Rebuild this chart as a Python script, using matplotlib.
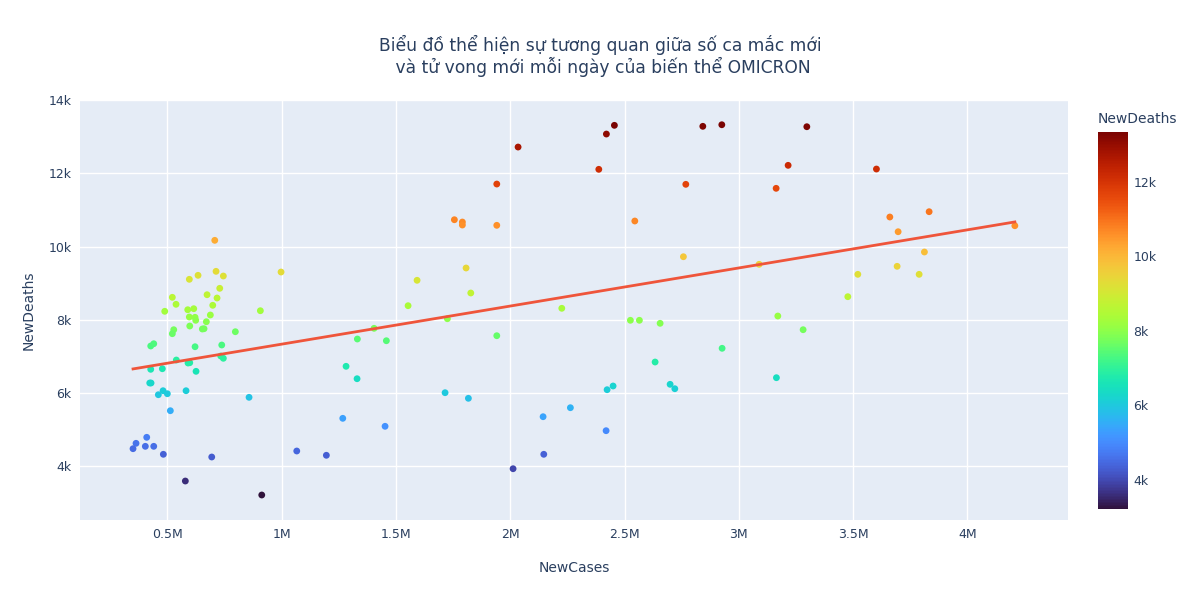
import numpy as np
import matplotlib.pyplot as plt
from matplotlib.ticker import FuncFormatter

# daily new cases / new deaths
new_cases = [707500, 596300, 634400, 713100, 745100, 997500, 729300, 521900, 673800, 717500,
             538100, 698700, 488700, 589300, 615600, 907000, 596300, 621300, 624300, 670700,
             688200, 598100, 653200, 660600, 528100, 521900, 797600, 427400, 440600, 621300,
             738100, 539400, 590600, 598100, 733700, 745100, 427400, 478200, 625600,
             423100, 428800, 481300, 460700, 500100, 581900, 857500, 513200, 409900, 363100,
             350000, 403800, 440600, 482600, 694300, 1066200, 578800, 913100,
             2034400, 1941200, 1755700, 1790700, 1790700, 1941200, 1806900, 1592500, 1827500,
             1553200, 1725100, 1404400,
             1331300, 1458200, 1941200, 1281900, 1330000, 1715000, 1817000, 1267500, 1452500,
             2143800, 1195700, 2012500, 2146800,
             2455700, 2420700, 2387500, 2842500, 2925600, 3297500, 3215700, 2768100, 3163200,
             2545000, 2757600, 3088800, 2225600,
             2525700, 2565100, 2655700, 3170600, 3281300, 2926900, 2633800, 3164500, 2450000,
             2423800, 2699400, 2720000, 2263200, 2419400,
             3602000, 3660600, 3832500, 3696900, 4207500, 3811900, 3692500, 3520600, 3788800,
             3476800]
new_deaths = [10174, 9109, 9218, 9327, 9199, 9308, 8863, 8617, 8688, 8598,
              8426, 8399, 8235, 8278, 8306, 8251, 8079, 8071, 7989, 7950,
              8134, 7833, 7751, 7759, 7732, 7623, 7677, 7287, 7349, 7267,
              7314, 6904, 6822, 6830, 7013, 6951, 6650, 6666, 6595,
              6276, 6276, 6065, 5956, 5983, 6065, 5885, 5519, 4792, 4628,
              4481, 4546, 4546, 4328, 4254, 4418, 3598, 3216,
              12723, 11712, 10737, 10674, 10592, 10584, 9418, 9082, 8735,
              8388, 8032, 7770,
              7478, 7431, 7568, 6732, 6393, 6011, 5858, 5311, 5093,
              5355, 4301, 3934, 4328,
              13316, 13078, 12114, 13289, 13332, 13278, 12223, 11704, 11595,
              10702, 9726, 9519, 8317,
              7989, 7989, 7907, 8106, 7732, 7224, 6849, 6421, 6194,
              6093, 6240, 6120, 5601, 4973,
              12122, 10811, 10956, 10409, 10573, 9855, 9464, 9245, 9245,
              8634]

x_ticks = [500000, 1000000, 1500000, 2000000, 2500000, 3000000, 3500000, 4000000]
x_labels = ['0.5M', '1M', '1.5M', '2M', '2.5M', '3M', '3.5M', '4M']
y_ticks = [4000, 6000, 8000, 10000, 12000, 14000]
cb_ticks = [4000, 6000, 8000, 10000, 12000]

title = 'Biểu đồ thể hiện sự tương quan giữa số ca mắc mới\n và tử vong mới mỗi ngày của biến thể OMICRON'

txt = '#2a3f5f'
plt.rcParams['font.family'] = ['DejaVu Sans']

x = np.array(new_cases, dtype=float)
y = np.array(new_deaths, dtype=float)

fig = plt.figure(figsize=(12, 6), dpi=100)
ax = fig.add_axes([80/1200, 80/600, 988/1200, 420/600])
ax.set_facecolor('#E5ECF6')
for s in ax.spines.values():
    s.set_visible(False)

sc = ax.scatter(x, y, c=y, cmap='turbo', s=24, linewidths=0, zorder=3)

# OLS trendline
k, b = np.polyfit(x, y, 1)
xl = np.array([x.min(), x.max()])
ax.plot(xl, k*xl + b, color='#EF553B', lw=2, zorder=4)

ax.set_xlim(118000, 4440000)
ax.set_ylim(2533, 14008)
ax.set_xticks(x_ticks)
ax.set_xticklabels(x_labels)
ax.set_yticks(y_ticks)
ax.set_yticklabels([f'{v//1000}k' for v in y_ticks])
ax.grid(color='white', lw=1)
ax.set_axisbelow(True)
ax.tick_params(length=0, colors=txt, labelsize=9, pad=6)
ax.set_xlabel('NewCases', color=txt, fontsize=10, labelpad=14)
ax.set_ylabel('NewDeaths', color=txt, fontsize=10, labelpad=9)

fig.text(0.5, 1 - 56/600, title, ha='center', va='center', color=txt,
         fontsize=12.3, linespacing=1.1)

cax = fig.add_axes([1098/1200, 91/600, 30/1200, 377/600])
cb = fig.colorbar(sc, cax=cax)
cb.outline.set_visible(False)
cb.set_ticks(cb_ticks)
cb.ax.yaxis.set_major_formatter(FuncFormatter(lambda v, p: f'{int(v)//1000}k'))
cb.ax.tick_params(length=0, colors=txt, labelsize=9, pad=4)
fig.text(1098/1200, 1 - 119/600, 'NewDeaths', ha='left', va='center',
         color=txt, fontsize=10)

fig.savefig('out.png', dpi=100)
